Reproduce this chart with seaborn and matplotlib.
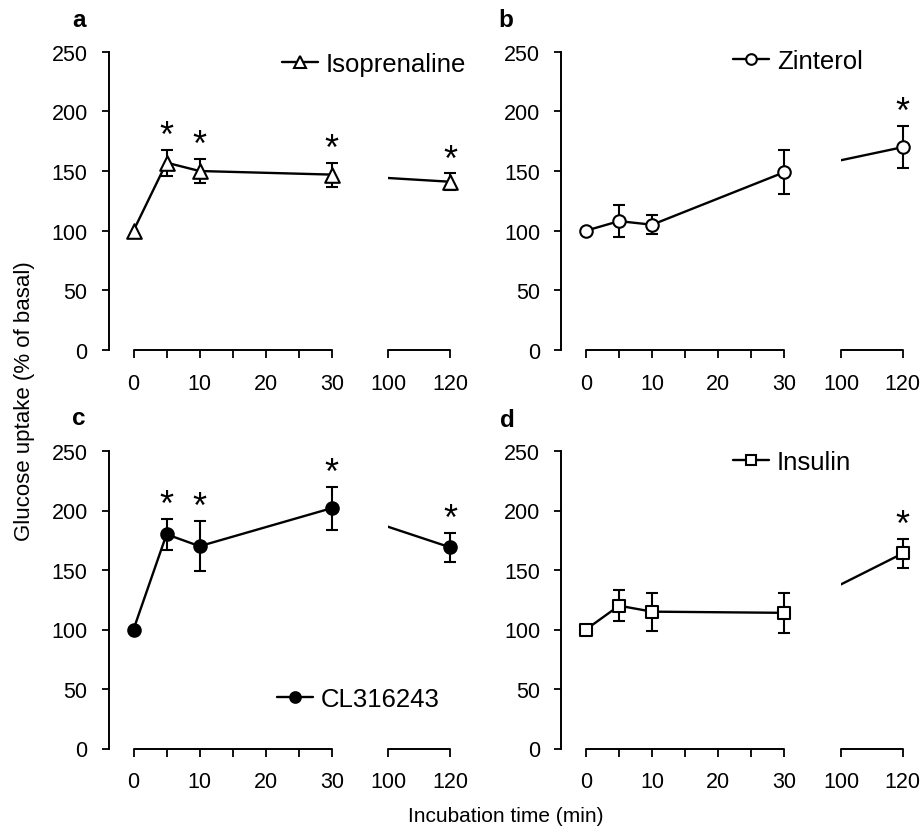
import numpy as np
import pandas as pd
import matplotlib
matplotlib.use("Agg")
import matplotlib.pyplot as plt
from matplotlib.lines import Line2D
from matplotlib.transforms import Bbox, TransformedBbox
import seaborn as sns

# ---- data: glucose uptake (% of basal) over incubation time ----
times = [0, 5, 10, 30, 120]

iso_mean = [100, 157, 150, 147, 141]
iso_sem = [0, 11, 10, 10, 7]
iso_sig = [False, True, True, True, True]

zin_mean = [100, 108, 105, 149, 170]
zin_sem = [0, 13.5, 8, 18.5, 17.5]
zin_sig = [False, False, False, False, True]

cl_mean = [100, 180, 170, 202, 169]
cl_sem = [0, 13, 21, 18, 12]
cl_sig = [False, True, True, True, True]

ins_mean = [100, 120, 115, 114, 164]
ins_sem = [0, 13, 16, 17, 12]
ins_sig = [False, False, False, False, True]

drug_names = ["Isoprenaline", "Zinterol", "CL316243", "Insulin"]
panel_letters = ["a", "b", "c", "d"]

x_major = [0, 10, 20, 30, 100, 120]
x_minor = [5, 15, 25]
y_ticks = [0, 50, 100, 150, 200, 250]

# ---- broken time axis: 0-30 min linear, gap, then compressed 100-120 min ----
BREAK_LO, BREAK_HI = 30.0, 100.0
P_HI = 38.57
K_HI = (47.93 - P_HI) / 20.0


def fwd(t):
    t = np.asarray(t, dtype=float)
    mid = BREAK_LO + (t - BREAK_LO) * (P_HI - BREAK_LO) / (BREAK_HI - BREAK_LO)
    hi = P_HI + (t - BREAK_HI) * K_HI
    return np.where(t <= BREAK_LO, t, np.where(t >= BREAK_HI, hi, mid))


def inv(p):
    p = np.asarray(p, dtype=float)
    mid = BREAK_LO + (p - BREAK_LO) * (BREAK_HI - BREAK_LO) / (P_HI - BREAK_LO)
    hi = BREAK_HI + (p - P_HI) / K_HI
    return np.where(p <= BREAK_LO, p, np.where(p >= P_HI, hi, mid))


sns.set_theme(style="ticks")
plt.rcParams["font.family"] = ["Liberation Sans", "DejaVu Sans"]
plt.rcParams["text.color"] = "black"
plt.rcParams["axes.labelcolor"] = "black"
plt.rcParams["xtick.color"] = "black"
plt.rcParams["ytick.color"] = "black"

W, H = 921, 829
fig = plt.figure(figsize=(W / 100, H / 100), dpi=100)

AX_W = 347.5
lefts = [108.5, 561.0, 108.5, 561.0]
tops = [52.7, 52.7, 452.0, 452.0]
heights = [298.3, 298.3, 297.5, 297.5]

series = [
    (iso_mean, iso_sem, iso_sig, "^", 10.5, "white"),
    (zin_mean, zin_sem, zin_sig, "o", 9.0, "white"),
    (cl_mean, cl_sem, cl_sig, "o", 9.0, "black"),
    (ins_mean, ins_sem, ins_sig, "s", 9.0, "white"),
]
legend_pos = [(0.499, 0.959), (0.495, 0.969), (0.485, 0.166), (0.495, 0.963)]
letter_pos = [(72, 27), (498, 27), (72, 425), (500, 427)]

LW = 1.7
EW = 1.5

for i in range(4):
    mean, sem, sig, mk, ms, fc = series[i]
    df = pd.DataFrame({"time": times, "mean": mean, "sem": sem})

    ax = fig.add_axes([lefts[i] / W, 1 - (tops[i] + heights[i]) / H,
                       AX_W / W, heights[i] / H])
    ax.set_xscale("function", functions=(fwd, inv))
    p_right = (AX_W - 25.0) / 6.61
    t_right = BREAK_HI + (p_right - P_HI) / K_HI
    ax.set_xlim(-25.0 / 6.61, t_right)
    ax.set_ylim(0, 250)

    # connecting line within 0-30 min
    early = df[df["time"] <= BREAK_LO]
    sns.lineplot(data=early, x="time", y="mean", color="black", lw=LW,
                 estimator=None, ax=ax, zorder=2)
    # bridge to the 120 min point, shown only on the late segment
    late = df[df["time"] >= BREAK_LO]
    sns.lineplot(data=late, x="time", y="mean", color="black", lw=LW,
                 estimator=None, ax=ax, zorder=2)
    ax.lines[-1].set_clip_box(
        TransformedBbox(Bbox([[BREAK_HI, -100], [200, 400]]), ax.transData))

    # SEM whiskers
    bars = df[df["sem"] > 0]
    ax.errorbar(bars["time"], bars["mean"], yerr=bars["sem"], fmt="none",
                ecolor="black", elinewidth=EW, capsize=4.5, capthick=EW,
                zorder=3, clip_on=False)

    # markers
    sns.scatterplot(data=df, x="time", y="mean", marker=mk, s=ms ** 2,
                    color=fc, edgecolor="black", linewidth=EW, ax=ax,
                    zorder=4, legend=False, clip_on=False)

    # significance stars
    for t, m, s, flag in zip(times, mean, sem, sig):
        if flag:
            ax.annotate("*", xy=(t, m + s), xytext=(0, -3),
                        textcoords="offset points", ha="center", va="bottom",
                        fontsize=26, color="black", annotation_clip=False)

    # axes styling
    for side in ["top", "right", "bottom"]:
        ax.spines[side].set_visible(False)
    ax.spines["left"].set_linewidth(1.4)
    ax.spines["left"].set_bounds(0, 250)
    ax.spines["left"].set_color("black")
    seg1 = [t for t in x_major if t <= BREAK_LO]
    seg2 = [t for t in x_major if t >= BREAK_HI]
    for seg in (seg1, seg2):
        ax.add_line(Line2D([min(seg), max(seg)], [0, 0], color="black",
                           lw=1.4, clip_on=False,
                           transform=ax.get_xaxis_transform()))

    ax.set_xticks(x_major)
    ax.set_xticklabels([str(t) for t in x_major])
    ax.set_xticks(x_minor, minor=True)
    ax.set_yticks(y_ticks)
    ax.set_yticklabels([str(v) for v in y_ticks])
    ax.tick_params(axis="x", which="both", direction="out", length=5.5,
                   width=1.3, color="black", pad=11, labelsize=15.5,
                   labelcolor="black", bottom=True)
    ax.tick_params(axis="y", direction="out", length=5, width=1.3,
                   color="black", pad=10, labelsize=15.5, labelcolor="black",
                   left=True)
    ax.set_xlabel("")
    ax.set_ylabel("")
    ax.grid(False)
    ax.set_facecolor("none")

    handle = Line2D([0], [0], color="black", lw=LW, marker=mk, ms=ms * 0.85,
                    mfc=fc, mec="black", mew=EW)
    leg = ax.legend(handles=[handle], labels=[drug_names[i]],
                    loc="center left", bbox_to_anchor=legend_pos[i],
                    frameon=False, fontsize=18.5, handlelength=1.4,
                    handletextpad=0.3, borderpad=0, borderaxespad=0)
    for txt in leg.get_texts():
        txt.set_color("black")

    lx, ly = letter_pos[i]
    fig.text(lx / W, 1 - ly / H, panel_letters[i], fontsize=17.5,
             fontweight="bold", ha="left", va="baseline", color="black")

fig.text(25 / W, 1 - 401 / H, "Glucose uptake (% of basal)", rotation=90,
         ha="center", va="center", fontsize=16, color="black")
fig.text(505.5 / W, 1 - 817 / H, "Incubation time (min)", ha="center",
         va="center", fontsize=15, color="black")

fig.savefig("out.png", dpi=100, facecolor="white")
